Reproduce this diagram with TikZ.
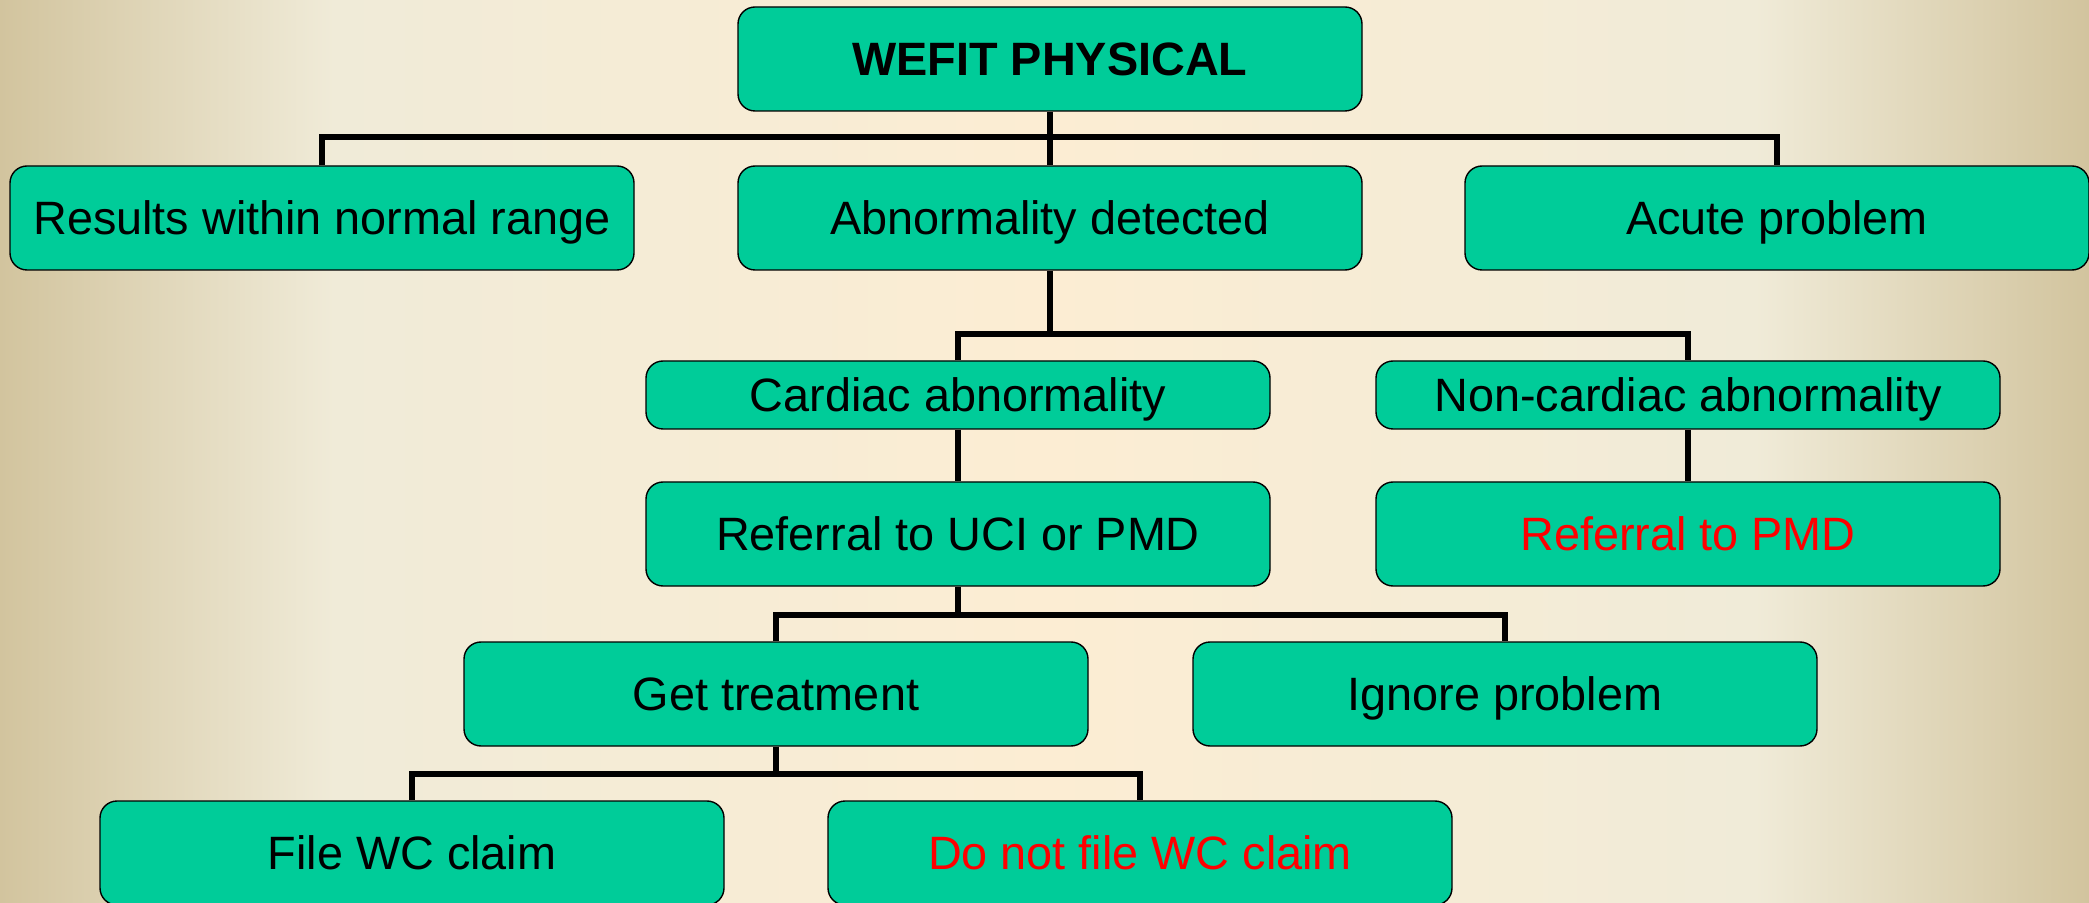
\documentclass[tikz,border=0pt]{standalone}
\usepackage{fontspec}
\setmainfont{Liberation Sans}
\usepackage{tikz}
\usepackage{xcolor}
\usetikzlibrary{
    calc
}

\definecolor{boxgreen}{RGB}{0,204,153}
\definecolor{tanedge}{RGB}{210,196,158}
\definecolor{creamside}{RGB}{240,235,216}
\definecolor{creammid}{RGB}{252,237,211}
\pgfdeclarehorizontalshading{bgshade}{100bp}{color(0bp)=(tanedge); color(25bp)=(tanedge); color(33bp)=(creamside); color(50bp)=(creammid); color(67bp)=(creamside); color(75bp)=(tanedge); color(100bp)=(tanedge)}

\begin{document}
\begin{tikzpicture}[
                        x=0.5pt, y=-0.5pt,
                        stage/.style={draw=black, line width=0.7pt, fill=boxgreen,
                            rounded corners=8.5pt, minimum width=312pt, minimum height=52pt,
                            inner sep=0pt, text height=16.75pt, text depth=0pt,
                            font=\fontsize{23.4}{28}\selectfont},
                        slim/.style={stage, minimum height=34pt},
                        link/.style={line width=3pt, black},
                        warn/.style={text=red}
                    ]
                        \useasboundingbox (0, 0) rectangle (2089, 903);
                        \shade[shading=bgshade] (0, 0) rectangle (2089, 903);

                        \node[stage, font=\fontsize{23.4}{28}\selectfont\bfseries] (phys) at (1050, 59) {WEFIT PHYSICAL};

                        \node[stage] (normal) at (322, 218) {Results within normal range};
                        \node[stage] (abn) at (1050, 218) {Abnormality detected};
                        \node[stage] (acute) at (1777, 218) {Acute problem};

                        \node[slim] (card) at (958, 395) {Cardiac abnormality};
                        \node[slim] (noncard) at (1688, 395) {Non-cardiac abnormality};

                        \node[stage] (refuci) at (958, 534) {Referral to UCI or PMD};
                        \node[stage, warn] (refpmd) at (1688, 534) {Referral to PMD};

                        \node[stage] (treat) at (776, 694) {Get treatment};
                        \node[stage] (ignore) at (1505, 694) {Ignore problem};

                        \node[stage] (claim) at (412, 853) {File WC claim};
                        \node[stage, warn] (noclaim) at (1140, 853) {Do not file WC claim};

                        \coordinate (bar1) at (0, 137);
                        \coordinate (bar2) at (0, 334);
                        \coordinate (bar3) at (0, 615);
                        \coordinate (bar4) at (0, 774);

                        \draw[link] (phys.south) -- (abn.north);
                        \draw[link] (normal.north) -- (normal.north |- bar1) -- (acute.north |- bar1) -- (acute.north);

                        \draw[link] (abn.south) -- (abn.south |- bar2);
                        \draw[link] (card.north) -- (card.north |- bar2) -- (noncard.north |- bar2) -- (noncard.north);

                        \draw[link] (card.south) -- (refuci.north);
                        \draw[link] (noncard.south) -- (refpmd.north);

                        \draw[link] (refuci.south) -- (refuci.south |- bar3);
                        \draw[link] (treat.north) -- (treat.north |- bar3) -- (ignore.north |- bar3) -- (ignore.north);

                        \draw[link] (treat.south) -- (treat.south |- bar4);
                        \draw[link] (claim.north) -- (claim.north |- bar4) -- (noclaim.north |- bar4) -- (noclaim.north);
                    \end{tikzpicture}
\end{document}
